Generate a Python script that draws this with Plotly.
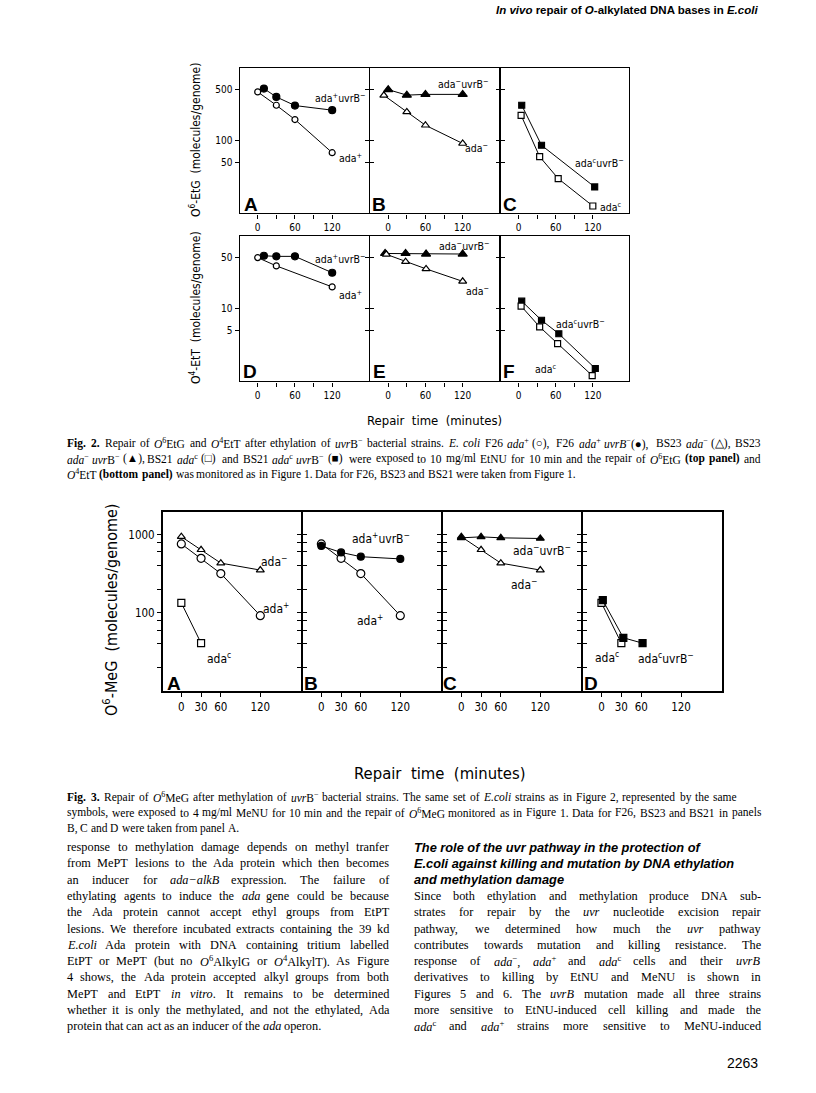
import math
import re
import plotly.graph_objects as go

W, H = 816, 1093

# ---------- Fig. 2: repair time (min) vs molecules/genome ----------
# top row, O6-EtG
etg_ada_plus_t = [0, 30, 60, 120]
etg_ada_plus = [465, 305, 194, 68]
etg_ada_plus_uvrb_t = [10, 30, 60, 120]
etg_ada_plus_uvrb = [516, 397, 302, 261]
etg_ada_minus_t = [-7, 30, 60, 120]
etg_ada_minus = [418, 247, 162, 91]
etg_ada_minus_uvrb_t = [0, 30, 60, 120]
etg_ada_minus_uvrb = [500, 420, 430, 430]
etg_adac_t = [4, 34, 64, 120]
etg_adac = [222, 60, 30, 12.6]
etg_adac_uvrb_t = [5, 37, 123]
etg_adac_uvrb = [305, 86, 23]

# bottom row, O4-EtT
ett_ada_plus_t = [0, 30, 120]
ett_ada_plus = [50, 38.5, 19.8]
ett_ada_plus_uvrb_t = [10, 30, 60, 120]
ett_ada_plus_uvrb = [53, 52, 52, 31]
ett_ada_minus_t = [-3, 28, 61, 120]
ett_ada_minus = [55.5, 44, 35, 23.6]
ett_ada_minus_uvrb_t = [-5, 28, 61, 120]
ett_ada_minus_uvrb = [57, 57, 56, 56]
ett_adac_t = [4, 34, 63, 119]
ett_adac = [10.8, 5.6, 3.3, 1.2]
ett_adac_uvrb_t = [5, 37, 65, 124]
ett_adac_uvrb = [12.6, 6.9, 4.5, 1.5]

# ---------- Fig. 3: O6-MeG ----------
meg_t = [0, 30, 60, 120]
meg_ada_plus = [760, 498, 318, 92]
meg_ada_minus = [940, 640, 432, 352]
meg_adac_t = [0, 30]
meg_adac = [134, 41]
meg_ada_plus_uvrb = [716, 592, 522, 489]
meg_ada_minus_uvrb = [909, 936, 909, 892]
meg_adac_uvrb_t = [2, 33, 62]
meg_adac_uvrb = [145, 48, 41]

fig2_xticks = [0, 60, 120]
fig2_xminor = [30, 90]
fig2_top_yticks = [50, 100, 500]
fig2_bot_yticks = [5, 10, 50]
fig3_xticks = [0, 30, 60, 120]
fig3_yticks = [100, 1000]
fig3_yminor = [20, 40, 60, 80, 200, 400, 600, 800]

SERIF = "Liberation Serif, Times New Roman, serif"
SANS = "Liberation Sans, Arial, sans-serif"
NARROW = "DejaVu Sans Condensed, Liberation Sans Narrow, Arial Narrow, sans-serif"

# marker style per strain
STYLE = {
    "ada+": ("circle", "white"),
    "ada+uvrB": ("circle", "black"),
    "ada-": ("triangle-up", "white"),
    "ada-uvrB": ("triangle-up", "black"),
    "adac": ("square", "white"),
    "adac_uvrB": ("square", "black"),
}

fig = go.Figure()
layout = {}
notes = []


def pp(x, y):
    return x / W, 1 - y / H


def panel(n, box, xr, yr, xvals, xminor, yvals, yminor, labels_y, ymirror, lw, fs):
    # box holds the pixel centres of the frame lines; plotly draws lines outside the domain
    left, right, top, bottom = box
    h = lw / 2
    s = "" if n == 1 else str(n)
    tick = dict(ticks="outside", ticklen=4, tickwidth=1.2, tickcolor="black")
    font = dict(family=NARROW, size=fs, color="black")
    layout["xaxis" + s] = dict(
        domain=[(left + h) / W, (right - h) / W], range=xr, anchor="y" + s,
        showline=True, mirror=True, linecolor="black", linewidth=lw,
        tickvals=xvals, tickfont=font, **tick,
        minor=dict(tickvals=xminor, **tick),
        showgrid=False, zeroline=False,
    )
    layout["yaxis" + s] = dict(
        domain=[1 - (bottom - h) / H, 1 - (top + h) / H], type="log",
        range=[math.log10(yr[0]), math.log10(yr[1])], anchor="x" + s,
        showline=True, mirror=ymirror, linecolor="black", linewidth=lw,
        tickvals=yvals, ticktext=[str(v) for v in yvals], tickfont=font,
        showticklabels=labels_y, **tick,
        minor=dict(tickvals=yminor, **tick),
        showgrid=False, zeroline=False,
    )
    return "x" + s, "y" + s


def series(ax, t, v, key, size):
    sym, fill = STYLE[key]
    fig.add_trace(go.Scatter(
        x=t, y=v, mode="lines+markers", xaxis=ax[0], yaxis=ax[1],
        line=dict(color="black", width=1),
        marker=dict(symbol=sym, size=size, color=fill, line=dict(color="black", width=1.2)),
        hoverinfo="skip",
    ))


def label(text, x, y, size, family=NARROW, bold=False, xanchor="center", **kw):
    xx, yy = pp(x, y)
    notes.append(dict(
        text=f"<b>{text}</b>" if bold else text, x=xx, y=yy, xref="paper", yref="paper",
        xanchor=xanchor, yanchor="middle", showarrow=False,
        font=dict(family=family, size=size, color="black"), **kw,
    ))


# ---------- Fig. 2 panels ----------
xr2 = [-29, 179]
top2 = [10, 1000]
bot2 = [1, 100]
f2, lw2 = 10, 1.4
cols2 = [239, 369.5, 500, 630]
rows2 = [(67, 214, top2, fig2_top_yticks), (235, 382, bot2, fig2_bot_yticks)]
axes2 = []
n = 1
for top, bottom, yr, yt in rows2:
    for c in range(3):
        axes2.append(panel(n, (cols2[c], cols2[c + 1], top, bottom), xr2, yr, fig2_xticks, fig2_xminor,
                           yt, [], c == 0, "ticks" if c < 2 else True, lw2, f2))
        n += 1
axA, axB, axC, axD, axE, axF = axes2

series(axA, etg_ada_plus_uvrb_t, etg_ada_plus_uvrb, "ada+uvrB", 7)
series(axA, etg_ada_plus_t, etg_ada_plus, "ada+", 6)
series(axB, etg_ada_minus_uvrb_t, etg_ada_minus_uvrb, "ada-uvrB", 8)
series(axB, etg_ada_minus_t, etg_ada_minus, "ada-", 7)
series(axC, etg_adac_uvrb_t, etg_adac_uvrb, "adac_uvrB", 6)
series(axC, etg_adac_t, etg_adac, "adac", 6)
series(axD, ett_ada_plus_uvrb_t, ett_ada_plus_uvrb, "ada+uvrB", 7)
series(axD, ett_ada_plus_t, ett_ada_plus, "ada+", 6)
series(axE, ett_ada_minus_uvrb_t, ett_ada_minus_uvrb, "ada-uvrB", 8)
series(axE, ett_ada_minus_t, ett_ada_minus, "ada-", 7)
series(axF, ett_adac_uvrb_t, ett_adac_uvrb, "adac_uvrB", 6)
series(axF, ett_adac_t, ett_adac, "adac", 6)

PU = "ada<sup>+</sup>uvrB<sup>−</sup>"
MU = "ada<sup>−</sup>uvrB<sup>−</sup>"
CU = "ada<sup>c</sup>uvrB<sup>−</sup>"
P, M, C = "ada<sup>+</sup>", "ada<sup>−</sup>", "ada<sup>c</sup>"

for t, x, y in [(PU, 340, 97), (P, 350, 157), (MU, 463, 84), (M, 476, 148),
                (CU, 599, 162), (C, 611, 207), (PU, 340, 258), (P, 350, 295),
                (MU, 464, 245), (M, 477, 291), (CU, 580, 323), (C, 546, 368)]:
    label(t, x, y, 10.5)

for t, x, y in [("A", 251, 204), ("B", 379, 204), ("C", 510, 204),
                ("D", 250, 372), ("E", 379, 372), ("F", 509, 372)]:
    label(t, x, y, 19, family=SANS, bold=True)

label("O<sup>6</sup>-EtG  (molecules/genome)", 195, 140, 12, textangle=-90)
label("O<sup>4</sup>-EtT  (molecules/genome)", 195, 308, 12, textangle=-90)
label("Repair  time  (minutes)", 434, 420, 13)

# ---------- Fig. 3 panels ----------
xr3 = [-28, 182]
yr3 = [10, 1950]
f3, lw3 = 11.5, 1.8
cols3 = [162, 302, 442, 582, 723]
axes3 = []
for c in range(4):
    axes3.append(panel(7 + c, (cols3[c], cols3[c + 1], 511, 692), xr3, yr3, fig3_xticks, [],
                       fig3_yticks, fig3_yminor, c == 0, "ticks" if c < 3 else True, lw3, f3))
ax3A, ax3B, ax3C, ax3D = axes3

series(ax3A, meg_t, meg_ada_minus, "ada-", 7)
series(ax3A, meg_t, meg_ada_plus, "ada+", 8)
series(ax3A, meg_adac_t, meg_adac, "adac", 7)
series(ax3B, meg_t, meg_ada_plus, "ada+", 8)
series(ax3B, meg_t, meg_ada_plus_uvrb, "ada+uvrB", 7)
series(ax3C, meg_t, meg_ada_minus, "ada-", 7)
series(ax3C, meg_t, meg_ada_minus_uvrb, "ada-uvrB", 7)
series(ax3D, meg_adac_t, meg_adac, "adac", 7)
series(ax3D, meg_adac_uvrb_t, meg_adac_uvrb, "adac_uvrB", 7)

for t, x, y in [(M, 274, 561), (P, 276, 608), (C, 219, 658),
                (PU, 381, 538), (P, 370, 620),
                (MU, 542, 550), (M, 524, 584),
                (C, 607, 657), (CU, 666, 658)]:
    label(t, x, y, 12)

for t, x, y in [("A", 174, 683), ("B", 311, 683), ("C", 450, 683), ("D", 591, 683)]:
    label(t, x, y, 19, family=SANS, bold=True)

label("O<sup>6</sup>-MeG  (molecules/genome)", 110, 610, 16, textangle=-90)
label("Repair  time  (minutes)", 440, 773, 16.5)

# ---------- page text ----------
TW = {" ": 250, "!": 333, "(": 333, ")": 333, ",": 250, "-": 333, ".": 250, "/": 278,
      ":": 278, ";": 278, "+": 564, "−": 564, "=": 564}
TW.update(zip("ABCDEFGHIJKLMNOPQRSTUVWXYZ",
              [722, 667, 667, 722, 611, 556, 722, 722, 333, 389, 722, 611, 889,
               722, 722, 556, 722, 667, 556, 611, 722, 722, 944, 722, 722, 611]))
TW.update(zip("abcdefghijklmnopqrstuvwxyz",
              [444, 500, 444, 500, 444, 333, 500, 500, 278, 278, 500, 278, 778,
               500, 500, 500, 500, 333, 389, 278, 500, 500, 722, 500, 500, 444]))
TW.update({ch: 820 for ch in "○●△▲□■"})


def measure(markup, size):
    total, scale, bold = 0.0, 1.0, 1.0
    for part in re.split(r"(<[^>]+>)", markup):
        if part.startswith("<"):
            if part == "<sup>":
                scale = 0.7
            elif part == "</sup>":
                scale = 1.0
            elif part == "<b>":
                bold = 1.08
            elif part == "</b>":
                bold = 1.0
            continue
        total += sum(TW.get(ch, 500) for ch in part) * scale * bold
    return total * size / 1000


def text_line(line, x0, x1, y, size, justify=True, family=SERIF):
    words = line.split(" ")
    widths = [measure(w, size) for w in words]
    gap = size * 0.25
    if justify and len(words) > 1:
        gap = (x1 - x0 - sum(widths)) / (len(words) - 1)
    x = x0
    for w, ww in zip(words, widths):
        label(w, x, y, size, family=family, xanchor="left", borderpad=0)
        x += ww + gap


cap2 = [
    "<b>Fig.</b> <b>2.</b> Repair of <i>O</i><sup>6</sup>EtG and <i>O</i><sup>4</sup>EtT after ethylation of "
    "<i>uvr</i>B<sup>−</sup> bacterial strains. <i>E.</i> <i>coli</i> F26 <i>ada</i><sup>+</sup> (○), F26 "
    "<i>ada</i><sup>+</sup> <i>uvrB</i><sup>−</sup>(●), BS23 <i>ada</i><sup>−</sup> (△), BS23",
    "<i>ada</i><sup>−</sup> <i>uvr</i>B<sup>−</sup> (▲), BS21 <i>ada</i><sup>c</sup> (□) and BS21 "
    "<i>ada</i><sup>c</sup> <i>uvr</i>B<sup>−</sup> (■) were exposed to 10 mg/ml EtNU for 10 min and the "
    "repair of <i>O</i><sup>6</sup>EtG <b>(top</b> <b>panel)</b> and",
    "<i>O</i><sup>4</sup>EtT <b>(bottom</b> <b>panel)</b> was monitored as in Figure 1. Data for F26, BS23 "
    "and BS21 were taken from Figure 1.",
]
cap3 = [
    "<b>Fig.</b> <b>3.</b> Repair of <i>O</i><sup>6</sup>MeG after methylation of <i>uvr</i>B<sup>−</sup> "
    "bacterial strains. The same set of <i>E.coli</i> strains as in Figure 2, represented by the same",
    "symbols, were exposed to 4 mg/ml MeNU for 10 min and the repair of <i>O</i><sup>6</sup>MeG monitored "
    "as in Figure 1. Data for F26, BS23 and BS21 in panels",
    "B, C and D were taken from panel A.",
]
cap3_right = [736, 760, None]
left_col = [
    "response to methylation damage depends on methyl tranfer",
    "from MePT lesions to the Ada protein which then becomes",
    "an inducer for <i>ada−alkB</i> expression. The failure of",
    "ethylating agents to induce the <i>ada</i> gene could be because",
    "the Ada protein cannot accept ethyl groups from EtPT",
    "lesions. We therefore incubated extracts containing the 39 kd",
    "<i>E.coli</i> Ada protein with DNA containing tritium labelled",
    "EtPT or MePT (but no <i>O</i><sup>6</sup>AlkylG or <i>O</i><sup>4</sup>AlkylT). As Figure",
    "4 shows, the Ada protein accepted alkyl groups from both",
    "MePT and EtPT <i>in</i> <i>vitro</i>. It remains to be determined",
    "whether it is only the methylated, and not the ethylated, Ada",
    "protein that can act as an inducer of the <i>ada</i> operon.",
]
right_head = [
    "The role of the uvr pathway in the protection of",
    "E.coli against killing and mutation by DNA ethylation",
    "and methylation damage",
]
right_col = [
    "Since both ethylation and methylation produce DNA sub-",
    "strates for repair by the <i>uvr</i> nucleotide excision repair",
    "pathway, we determined how much the <i>uvr</i> pathway",
    "contributes towards mutation and killing resistance. The",
    "response of <i>ada</i><sup>−</sup>, <i>ada</i><sup>+</sup> and <i>ada</i><sup>c</sup> cells and their <i>uvrB</i>",
    "derivatives to killing by EtNU and MeNU is shown in",
    "Figures 5 and 6. The <i>uvrB</i> mutation made all three strains",
    "more sensitive to EtNU-induced cell killing and made the",
    "<i>ada</i><sup>c</sup> and <i>ada</i><sup>+</sup> strains more sensitive to MeNU-induced",
]

CAP = 11.5
for i, line in enumerate(cap2):
    text_line(line, 66, 760, 443 + 15.5 * i, CAP, justify=i < 2)
for i, line in enumerate(cap3):
    right = cap3_right[i]
    text_line(line, 66, right or 760, 797 + 15.5 * i, CAP, justify=right is not None)

BODY, LEAD, Y0 = 12.3, 16.3, 847
for i, line in enumerate(left_col):
    text_line(line, 66, 388, Y0 + LEAD * i, BODY, justify=i < len(left_col) - 1)
for i, line in enumerate(right_head):
    label(f"<b><i>{line}</i></b>", 413, Y0 + LEAD * i, 12.8, family=SANS, xanchor="left", borderpad=0)
for i, line in enumerate(right_col):
    text_line(line, 413, 760, Y0 + LEAD * (i + 3), BODY)

label("<b><i>In vivo</i> repair of <i>O</i>-alkylated DNA bases in <i>E.coli</i></b>",
      760, 10, 11.5, family=SANS, xanchor="right")
label("2263", 760, 1063, 14, family=SANS, xanchor="right")

fig.update_layout(
    **layout,
    annotations=notes,
    width=W, height=H,
    margin=dict(l=0, r=0, t=0, b=0),
    paper_bgcolor="white", plot_bgcolor="white",
    showlegend=False,
)

# the page body has a default 8px margin; drop it so pixel positions match the page
fig.write_html("out.html", config={"displayModeBar": False},
               post_script="document.body.style.margin = '0px';")
